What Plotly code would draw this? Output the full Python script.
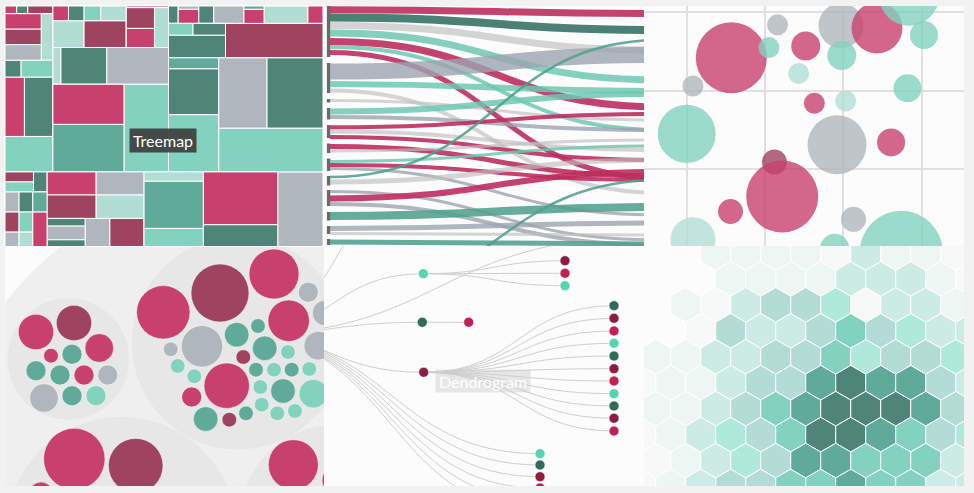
import plotly.graph_objects as go

W, H = 974, 493

PAL = {
    'P': '#c8416e', 'M': '#9e4460', 'DG': '#4f8577', 'MG': '#5faa98',
    'LT': '#82d2be', 'PT': '#b2ddd3', 'G': '#b0b6bd', 'W': '#ffffff',
}
LINK_RGBA = {
    'P': 'rgba(190,45,95,0.9)', 'DG': 'rgba(60,118,103,0.92)', 'MG': 'rgba(80,160,140,0.88)',
    'LT': 'rgba(110,200,178,0.85)', 'G': 'rgba(156,164,175,0.8)', 'LGr': 'rgba(190,190,190,0.65)',
}
DN_PAL = {'LT': '#56d5b0', 'DG': '#2e6b5a', 'M': '#8c1d3f', 'P': '#c21f53'}
HEX_PAL = ['#f6f9f8', '#edf6f3', '#cbebe4', '#b3ddd4', '#aee9da', '#82d2be', '#5faa98', '#4f8577']

# ---------------- Treemap data ----------------
tm_ids = [
    "root", "T", "Bt", "A", "B", "C", "D", "E", "F",
    "A1", "A1a", "A1b", "A1c",
    "A2", "A2x", "A2x1", "A2x2", "A2x3", "A2y",
    "A3a", "A3a1", "A3a2",
    "A3b", "A3b1", "A3b2",
    "A3c",
    "B1", "B1a", "B1a1", "B1a1a", "B1a1b", "B1a2",
    "B1b", "B1b1", "B1b1a", "B1b1b", "B1b2",
    "B1c", "B1c1", "B1c2", "B1c2a", "B1c2a1", "B1c2a2", "B1c2b",
    "B2a", "B2a1", "B2a2", "B2a3",
    "B2b", "B2b1", "B2b1a", "B2b1b", "B2b2",
    "C1", "C1a", "C1b", "C1b1", "C1b2", "C1c", "C1d", "C1e", "C1e1", "C1e2", "C1f", "C1g",
    "C2", "C2a", "C2a1", "C2a1a", "C2a1b", "C2a2", "C2b",
    "C3", "C3a", "C3a1", "C3a2", "C3a3", "C3b", "C3b1", "C3b1a", "C3b1b", "C3b2",
    "D1", "D1a", "D1a1", "D1a2", "D1b",
    "D2", "D2a", "D2a1", "D2a2", "D2a3", "D2b", "D2b1", "D2b2", "D2b3", "D2c", "D2c1", "D2c2",
    "E1", "E1a", "E1a1", "E1a2", "E1b", "E1b1", "E1b2",
    "E2", "E2a", "E2a1", "E2a2", "E2a3", "E2b", "E2c",
    "F0", "F0a", "F0a1", "F0a2", "F0a3", "F0b", "F0b1", "F0b2", "F0c",
]
tm_parents = [
    "", "root", "root", "T", "T", "T", "Bt", "Bt", "Bt",
    "A", "A1", "A1", "A1",
    "A", "A2", "A2x", "A2x", "A2x", "A2",
    "A", "A3a", "A3a",
    "A", "A3b", "A3b",
    "A",
    "B", "B1", "B1a", "B1a1", "B1a1", "B1a",
    "B1", "B1b", "B1b1", "B1b1", "B1b",
    "B1", "B1c", "B1c", "B1c2", "B1c2a", "B1c2a", "B1c2",
    "B", "B2a", "B2a", "B2a",
    "B", "B2b", "B2b1", "B2b1", "B2b",
    "C", "C1", "C1", "C1b", "C1b", "C1", "C1", "C1", "C1e", "C1e", "C1", "C1",
    "C", "C2", "C2a", "C2a1", "C2a1", "C2a", "C2",
    "C", "C3", "C3a", "C3a", "C3a", "C3", "C3b", "C3b1", "C3b1", "C3b",
    "D", "D1", "D1a", "D1a", "D1",
    "D", "D2", "D2a", "D2a", "D2a", "D2", "D2b", "D2b", "D2b", "D2", "D2c", "D2c",
    "E", "E1", "E1a", "E1a", "E1", "E1b", "E1b",
    "E", "E2", "E2a", "E2a", "E2a", "E2", "E2",
    "F", "F0", "F0a", "F0a", "F0a", "F0", "F0b", "F0b", "F0",
]
tm_values = [
    0, 0, 0, 0, 0, 0, 0, 0, 0,
    0, 805, 759, 1725,
    0, 0, 5004, 5004, 5004, 4865,
    0, 2448, 4845,
    0, 10266, 15045,
    15158,
    0, 0, 0, 2046, 2046, 7440,
    0, 0, 2200, 3344, 10080,
    0, 630, 0, 0, 5208, 4788, 4998,
    0, 2640, 15070, 20240,
    0, 0, 25440, 30104, 34846,
    0, 1508, 0, 610, 2562, 2340, 4680, 0, 600, 2520, 6812, 2340,
    0, 0, 0, 2555, 3395, 11560, 29973,
    0, 0, 4950, 20550, 25650, 0, 0, 30240, 35070, 40741,
    0, 0, 2550, 2550, 2460,
    0, 0, 2520, 2520, 1806, 0, 2460, 2460, 1763, 0, 2580, 4429,
    0, 0, 10074, 10220, 0, 9867, 10010,
    0, 0, 2599, 4633, 2260, 6216, 8568,
    0, 0, 4956, 24957, 9558, 0, 35076, 14430, 30105,
]
tm_colors = [
    "W", "W", "W", "W", "W", "W", "W", "W", "W",
    "W", "P", "DG", "M",
    "W", "W", "P", "M", "G", "PT",
    "W", "DG", "LT",
    "W", "P", "DG",
    "LT",
    "W", "W", "W", "P", "DG", "PT",
    "W", "W", "LT", "PT", "M",
    "W", "P", "W", "W", "M", "P", "PT",
    "W", "PT", "DG", "G",
    "W", "W", "P", "MG", "LT",
    "W", "DG", "W", "G", "P", "DG", "G", "W", "MG", "P", "PT", "P",
    "W", "W", "W", "LT", "DG", "DG", "M",
    "W", "W", "MG", "DG", "LT", "W", "W", "G", "DG", "LT",
    "W", "W", "M", "LT", "DG",
    "W", "W", "G", "M", "G", "W", "DG", "LT", "PT", "W", "MG", "P",
    "W", "W", "P", "M", "W", "G", "PT",
    "W", "W", "DG", "G", "DG", "G", "M",
    "W", "W", "PT", "MG", "LT", "W", "P", "DG", "G",
]

# ---------------- Sankey-like links ----------------
sk_src_y = [9.7, 17.5, 25.5, 33, 41.5, 47, 52.5, 71.5, 84, 90.5, 100.5, 111.5, 117, 127.3, 131.5,
            137, 146.5, 151, 161.5, 165, 168.5, 177, 182, 191.5, 198.5, 204, 216, 228.5, 233.5, 242, 300]
sk_tgt_y = [13.5, 30, 50, 80, 107, 130, 178, 55, 91, 193, 120, 94, 130, 114, 150,
            160, 176, 140, 146, 180, 215, 40, 160, 240, 172, 245, 207, 223, 235, 244, 180]
sk_width = [7, 8, 7, 7, 7, 4, 5, 16, 6, 4, 3, 6, 4, 4, 4,
            4, 5, 3, 3, 4, 3, 2.5, 5, 3, 6, 4, 8, 5, 3, 5, 2.5]
sk_color = ['P', 'DG', 'LGr', 'LT', 'P', 'LT', 'P', 'G', 'LT', 'LGr', 'LGr', 'LT', 'G', 'P', 'LGr',
            'P', 'P', 'LGr', 'LT', 'P', 'G', 'MG', 'LGr', 'G', 'P', 'G', 'MG', 'G', 'LGr', 'MG', 'MG']
sk_node_top = [6, 63, 99, 108, 125, 143.5, 158.5, 176, 190, 212, 226, 239]
sk_node_bot = [57, 93, 102.5, 119.5, 138, 153, 171, 185.5, 206, 220.5, 234, 245]

# ---------------- Bubbles ----------------
bub_x = [1.57, 2.16, 2.05, 2.52, 2.97, 3.43, 3.84, 4.03, 2.98, 2.43, 1.08, 3.82,
         2.63, 3.03, 1.00, 2.92, 3.61, 2.12, 2.22, 1.56, 1.08, 3.13, 2.89, 3.74]
bub_y = [2.42, 2.84, 2.55, 2.57, 2.83, 2.80, 3.21, 2.71, 2.45, 2.22, 2.06, 2.03,
         1.84, 1.87, 1.45, 1.31, 1.34, 1.09, 0.65, 0.46, 0.10, 0.36, -0.01, -0.06]
bub_d = [71, 21, 21, 29, 45, 51, 60, 28, 29, 21, 21, 28,
         21, 21, 58, 59, 28, 25, 72, 25, 45, 25, 29, 83]
bub_c = ['P', 'G', 'LT', 'P', 'G', 'P', 'LT', 'LT', 'LT', 'PT', 'G', 'LT',
         'P', 'PT', 'LT', 'G', 'P', 'M', 'P', 'P', 'PT', 'G', 'LT', 'LT']

# ---------------- Circle packing ----------------
pk_grp_x = [230, 68.3, 238.3, 121.5, 335]
pk_grp_y = [470, 359, 343, 531.7, 520]
pk_grp_r = [280, 60.7, 106.5, 115, 95]
pk_grp_c = ['#efefef', '#e7e7e7', '#e7e7e7', '#e7e7e7', '#e7e7e7']

pk_x = [36, 74, 99.3, 51, 72, 36, 60, 84, 107.7, 44, 72, 96,
        163.3, 220, 274, 308.3, 325, 288.7, 202, 170.7, 236.7, 258, 264.7, 318.3, 288, 243.3,
        177.7, 194.3, 226.7, 256, 274, 291.7, 309.3, 260.3, 283, 313.3, 191.7, 261.7, 277.3,
        295, 246, 205.7, 229.3,
        74.3, 135.7, 41, 293.3, 336]
pk_y = [332, 323, 348, 355.7, 354.3, 370.7, 375, 375, 375, 398, 395.7, 395.7,
        312.3, 293, 274, 292.3, 313, 320.7, 346.3, 349.3, 334.7, 326, 348.3, 345.7, 352, 357,
        366, 376.3, 385.7, 369.7, 369.7, 369.7, 369, 387, 391, 393.7, 397, 404.7, 413.3,
        411, 413.3, 419, 419.7,
        459, 465.7, 494, 464.7, 480]
pk_r = [17.7, 17.7, 14.3, 7.3, 10, 10, 10, 10, 10, 14.3, 10, 10,
        26.7, 29, 25, 10, 12.7, 20.7, 20.7, 7.3, 12.3, 7.3, 12.3, 14.3, 7.3, 7.3,
        7.3, 7.3, 22.7, 7.3, 7.3, 7.3, 7.3, 7.3, 12.3, 14.3, 10, 7.3, 7.3,
        7.3, 7.3, 12.3, 7.3,
        30.7, 27.3, 12, 25, 14]
pk_c = ['P', 'M', 'P', 'P', 'MG', 'MG', 'MG', 'P', 'G', 'G', 'MG', 'LT',
        'P', 'M', 'P', 'G', 'G', 'P', 'G', 'G', 'MG', 'MG', 'MG', 'G', 'LT', 'M',
        'LT', 'LT', 'P', 'MG', 'LT', 'MG', 'LT', 'LT', 'MG', 'LT', 'P', 'LT', 'LT',
        'LT', 'MG', 'MG', 'M',
        'P', 'M', 'P', 'P', 'P']

# ---------------- Dendrogram ----------------
dn_x = [240, 423.3, 422.3, 423.7, 565, 565, 565, 468.7,
        614, 614, 614, 614, 614, 614, 614, 614, 614, 614, 614,
        540, 540, 540, 540, 540, 540, 450, 640]
dn_y = [335, 273.7, 322.3, 372.3, 260.7, 273.3, 285.7, 322.3,
        305.7, 318.3, 331, 343.3, 356, 368.7, 381, 393.7, 406, 418.3, 431,
        453.7, 465, 476.7, 488, 499.5, 511, 150, 238]
dn_parent = [-1, 0, 0, 0, 1, 1, 1, 2,
             3, 3, 3, 3, 3, 3, 3, 3, 3, 3, 3,
             0, 0, 0, 0, 0, 0, 0, 0]
dn_c = ['DG', 'LT', 'DG', 'M', 'M', 'P', 'LT', 'P',
        'DG', 'M', 'P', 'LT', 'DG', 'M', 'P', 'LT', 'DG', 'M', 'P',
        'LT', 'DG', 'M', 'P', 'LT', 'DG', 'LT', 'P']

# ---------------- Hexbin (levels per row of the hex grid, -1 = empty bin) ----------------
hex_levels = [
    [-1, -1, 1, 1, 1, 1, 0, 2, 1, 1, 0],
    [-1, -1, -1, 1, 1, 1, 1, 2, 2, 2, 1, 0],
    [-1, 1, 0, 2, 3, 3, 4, 0, 2, 2, 1],
    [-1, -1, 0, 3, 2, 2, 3, 5, 3, 4, 2, 2],
    [1, 1, 2, 2, 3, 3, 5, 4, 3, 3, 4],
    [0, 1, 1, 2, 3, 3, 6, 7, 6, 6, 3, 2],
    [1, 1, 2, 3, 5, 6, 7, 7, 7, 6, 3],
    [0, 1, 2, 4, 3, 5, 7, 7, 6, 5, 3, 4],
    [0, 1, 2, 4, 3, 6, 6, 5, 5, 5, 2],
    [0, 1, 2, 3, 3, 5, 5, 6, 5, 5, 2, 2],
]

# ---------------- Layout boxes (pixels) ----------------
def dom(x0, x1, y0, y1):
    return [x0 / W, x1 / W], [1 - y1 / H, 1 - y0 / H]

tdx, tdy = dom(5, 323, 6, 246.5)
skx, sky = dom(324, 644, 6, 246)
bbx, bby = dom(644, 964, 6, 246)
pkx, pky = dom(5, 324, 246, 486)
dnx, dny = dom(324, 644, 246, 486)
hxx, hxy = dom(644, 964, 246, 486)

fig = go.Figure()

# Treemap
fig.add_trace(go.Treemap(
    ids=tm_ids, labels=tm_ids, parents=tm_parents, values=tm_values,
    branchvalues='remainder', sort=False,
    marker=dict(colors=[PAL[c] for c in tm_colors], line=dict(color='white', width=1),
                pad=dict(t=0, l=0, r=0, b=0)),
    tiling=dict(packing='dice-slice', pad=0),
    pathbar=dict(visible=False), textinfo='none', hoverinfo='skip',
    domain=dict(x=tdx, y=tdy),
))

# Sankey node bars
nx, ny = [], []
for t, b in zip(sk_node_top, sk_node_bot):
    nx += [328.6, 328.6, None]
    ny += [t, b, None]
fig.add_trace(go.Scatter(x=nx, y=ny, mode='lines', line=dict(color='rgba(80,80,80,0.85)', width=3.4),
                         hoverinfo='skip', xaxis='x', yaxis='y'))

shapes = []
SX0, SX1 = 330, 662
for y0, y1, w, c in zip(sk_src_y, sk_tgt_y, sk_width, sk_color):
    xm = (SX0 + SX1) / 2
    shapes.append(dict(type='path', xref='x', yref='y',
                       path=f'M {SX0},{y0} C {xm},{y0} {xm},{y1} {SX1},{y1}',
                       line=dict(color=LINK_RGBA[c], width=w), layer='above'))

# Bubbles
fig.add_trace(go.Scatter(x=bub_x, y=bub_y, mode='markers', xaxis='x2', yaxis='y2', hoverinfo='skip',
                         marker=dict(size=bub_d, color=[PAL[c] for c in bub_c], opacity=0.8,
                                     line=dict(width=0))))

# Circle packing
fig.add_trace(go.Scatter(x=pk_grp_x, y=pk_grp_y, mode='markers', xaxis='x3', yaxis='y3', hoverinfo='skip',
                         marker=dict(size=[2 * r for r in pk_grp_r], color=pk_grp_c, opacity=1,
                                     line=dict(width=0))))
fig.add_trace(go.Scatter(x=pk_x, y=pk_y, mode='markers', xaxis='x3', yaxis='y3', hoverinfo='skip',
                         marker=dict(size=[2 * r for r in pk_r], color=[PAL[c] for c in pk_c], opacity=1,
                                     line=dict(width=0.8, color='rgba(255,255,255,0.6)'))))

# Dendrogram links and nodes
for i, p in enumerate(dn_parent):
    if p < 0:
        continue
    x0, y0, x1, y1 = dn_x[p], dn_y[p], dn_x[i], dn_y[i]
    xm = (x0 + x1) / 2
    shapes.append(dict(type='path', xref='x4', yref='y4',
                       path=f'M {x0},{y0} C {xm},{y0} {xm},{y1} {x1},{y1}',
                       line=dict(color='#cfcfcf', width=1), layer='below'))
fig.add_trace(go.Scatter(x=dn_x[1:], y=dn_y[1:], mode='markers', xaxis='x4', yaxis='y4', hoverinfo='skip',
                         marker=dict(size=10, color=[DN_PAL[c] for c in dn_c[1:]],
                                     line=dict(width=0.6, color='white'))))

# Hexbin
hx, hy, hc = [], [], []
for r, row in enumerate(hex_levels):
    x_start = 655.7 if r % 2 == 0 else 640.7
    for c, lev in enumerate(row):
        if lev < 0:
            continue
        hx.append(x_start + 30 * c)
        hy.append(253 + 25.95 * r)
        hc.append(HEX_PAL[lev])
fig.add_trace(go.Scatter(x=hx, y=hy, mode='markers', xaxis='x5', yaxis='y5', hoverinfo='skip',
                         marker=dict(symbol='hexagon', size=34.6, color=hc,
                                     line=dict(width=1, color='white'))))

hidden = dict(visible=False, showgrid=False, zeroline=False, fixedrange=True)
grid = dict(showgrid=True, gridcolor='#e0e0e0', gridwidth=1.5, dtick=1, tick0=0,
            showticklabels=False, ticks='', zeroline=False, showline=False, fixedrange=True)

fig.update_layout(
    width=W, height=H, margin=dict(l=0, r=0, t=0, b=0),
    paper_bgcolor='#f2f2f2', plot_bgcolor='#fcfcfc',
    showlegend=False, font=dict(family='Lato'),
    xaxis=dict(domain=skx, range=[324, 644], **hidden),
    yaxis=dict(domain=sky, range=[246, 6], **hidden),
    xaxis2=dict(domain=bbx, range=[0.455, 4.541], anchor='y2', **grid),
    yaxis2=dict(domain=bby, range=[0.02, 3.08], anchor='x2', **grid),
    xaxis3=dict(domain=pkx, range=[5, 324], anchor='y3', **hidden),
    yaxis3=dict(domain=pky, range=[486, 246], anchor='x3', **hidden),
    xaxis4=dict(domain=dnx, range=[324, 644], anchor='y4', **hidden),
    yaxis4=dict(domain=dny, range=[486, 246], anchor='x4', **hidden),
    xaxis5=dict(domain=hxx, range=[644, 964], anchor='y5', **hidden),
    yaxis5=dict(domain=hxy, range=[486, 246], anchor='x5', **hidden),
    shapes=shapes,
    annotations=[
        dict(text='Treemap', xref='paper', yref='paper', x=163 / W, y=1 - 140.5 / H,
             xanchor='center', yanchor='middle', showarrow=False, width=64, height=21, borderpad=1,
             bgcolor='rgba(62,62,62,0.92)', font=dict(family='Lato', size=16, color='white')),
        dict(text='Dendrogram', xref='paper', yref='paper', x=483 / W, y=1 - 381 / H,
             xanchor='center', yanchor='middle', showarrow=False, width=92, height=20, borderpad=1,
             bgcolor='rgba(205,205,205,0.45)', font=dict(family='Lato', size=16, color='white')),
    ],
)

fig.write_html("out.html", config=dict(displayModeBar=False),
               post_script="document.body.style.margin='0px';document.body.style.background='#f2f2f2';")
